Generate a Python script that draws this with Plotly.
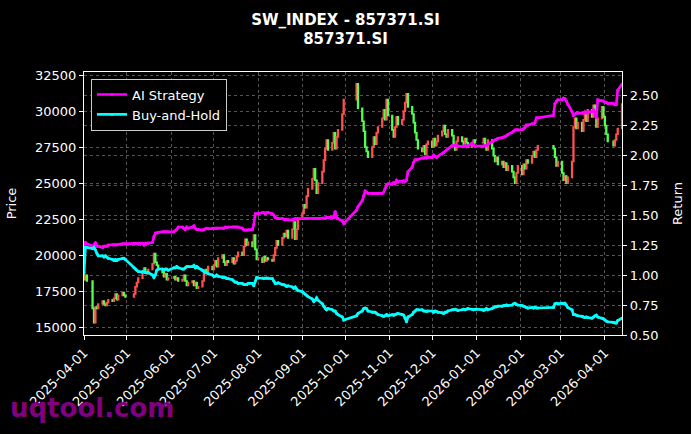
import pandas as pd
import plotly.graph_objects as go

# trading days: weekdays minus exchange holidays
start_date = "2025-04-01"
end_date = "2026-04-13"
holidays = ["2025-04-04", "2025-05-01", "2025-05-02", "2025-05-05", "2025-06-02",
            "2025-10-01", "2025-10-02", "2025-10-03", "2025-10-06", "2025-10-07", "2025-10-08",
            "2026-01-01", "2026-01-02", "2026-02-16", "2026-02-17", "2026-02-18",
            "2026-02-19", "2026-02-20", "2026-02-23", "2026-04-06"]

first_open = 18700
closes = [
    # 2025-04
    18300, 18600, 18200, 16300, 15300, 16400, 16300, 16600, 16800, 16600, 16500, 16700, 16900,
    16800, 17000, 17300, 16900, 17200, 17400, 17200, 17100,
    # 2025-05
    17300, 17800, 18100, 18400, 18900, 19100, 18800, 18700, 19000, 19400, 20100, 19500, 19300,
    19000, 18800, 18500, 18700, 18300, 18400,
    # 2025-06
    18500, 18300, 18400, 18200, 18300, 18600, 18200, 17900, 18100, 18200, 17900, 18100, 17700,
    17800, 18200, 18700, 19000, 18800, 19200, 19000,
    # 2025-07
    19300, 19600, 19200, 19800, 20000, 19500, 19300, 19600, 19500, 19800, 19400, 19600, 19900,
    20200, 20000, 20600, 21100, 20700, 20900, 20600, 21400, 20400, 19700,
    # 2025-08
    19800, 19500, 19900, 19600, 19800, 19700, 19600, 20000, 20500, 21000, 20700, 21200, 21500,
    21300, 21700, 21200, 21800, 22300, 21100, 21800, 22600,
    # 2025-09
    22900, 23500, 23300, 24100, 24600, 25300, 26000, 25200, 24300, 25000, 25800, 26600, 27400,
    28000, 27300, 27800, 28500, 27400, 28200, 28700, 29800, 30800,
    # 2025-10
    31900, 30200, 29300, 28600, 27500, 27200, 26800, 27500, 28200, 27700, 28500, 28900, 29500,
    30100, 29400, 30800, 29700,
    # 2025-11
    28700, 28200, 28900, 29600, 29100, 29400, 30000, 30600, 31200, 30300, 29800, 29200, 28500,
    28000, 27400, 27200, 27600, 27000, 27700, 27900,
    # 2025-12
    27500, 28100, 27600, 27900, 28300, 28600, 29000, 28400, 28200, 28700, 28300, 27600, 27300,
    27900, 28200, 27900, 27600, 28100, 27800, 27500, 27700, 28000, 27800,
    # 2026-01
    27800, 28100, 27600, 27300, 28000, 27400, 26900, 26500, 26800, 26300, 26500, 26100, 26400,
    25900, 26200, 25800, 25400, 25000, 25700, 26200,
    # 2026-02
    25600, 26300, 26000, 26600, 26400, 26900, 27200, 26800, 27300, 27600, 27400, 26800, 26200, 26500,
    # 2026-03
    25700, 25200, 25500, 25000, 25400, 26500, 28900, 29500, 28800, 29200, 28600, 29400, 29900,
    29300, 30100, 29600, 30400, 29800, 28900, 29500, 30300, 29600,
    # 2026-04
    29000, 28400, 27900, 27600, 28000, 28400, 28800, 30500,
]

ai_strategy = [
    1.25, 1.27, 1.26, 1.24, 1.25, 1.27, 1.24, 1.24, 1.23, 1.24, 1.24, 1.24, 1.25, 1.25, 1.25, 1.25,
    1.25, 1.255, 1.26, 1.26, 1.26,
    1.265, 1.265, 1.265, 1.265, 1.265, 1.25, 1.265, 1.265, 1.265, 1.27, 1.32, 1.35, 1.35, 1.355,
    1.36, 1.36, 1.36, 1.36, 1.36,
    1.36, 1.37, 1.38, 1.40, 1.40, 1.39, 1.38, 1.40, 1.39, 1.40, 1.41, 1.39, 1.38, 1.38, 1.375,
    1.38, 1.385, 1.39, 1.385, 1.39,
    1.39, 1.39, 1.39, 1.39, 1.39, 1.39, 1.40, 1.395, 1.40, 1.40, 1.40, 1.40, 1.40, 1.40, 1.39,
    1.375, 1.375, 1.375, 1.375, 1.38, 1.42, 1.51, 1.51,
    1.51, 1.52, 1.52, 1.51, 1.52, 1.52, 1.51, 1.50, 1.48, 1.475, 1.47, 1.47, 1.465, 1.46, 1.465,
    1.46, 1.46, 1.465, 1.47, 1.465, 1.47,
    1.47, 1.47, 1.47, 1.47, 1.47, 1.47, 1.47, 1.47, 1.47, 1.47, 1.475, 1.475, 1.475, 1.48, 1.48,
    1.48, 1.48, 1.53, 1.48, 1.47, 1.45, 1.43,
    1.54, 1.57, 1.62, 1.66, 1.70, 1.69, 1.68, 1.68, 1.68, 1.68, 1.68, 1.68, 1.68, 1.69, 1.72,
    1.75, 1.76,
    1.76, 1.77, 1.76, 1.79, 1.78, 1.78, 1.785, 1.78, 1.79, 1.86, 1.90, 1.94, 1.96, 1.96, 1.965,
    1.975, 1.975, 1.98, 1.975, 1.98,
    1.98, 2.00, 1.99, 1.98, 1.99, 2.01, 2.02, 2.03, 2.04, 2.05, 2.08, 2.08, 2.08, 2.08, 2.075,
    2.07, 2.075, 2.08, 2.07, 2.075, 2.10, 2.08, 2.075,
    2.07, 2.075, 2.08, 2.08, 2.09, 2.11, 2.12, 2.125, 2.13, 2.14, 2.145, 2.15, 2.15, 2.16, 2.17,
    2.19, 2.20, 2.21, 2.21, 2.21,
    2.21, 2.22, 2.23, 2.25, 2.25, 2.26, 2.26, 2.27, 2.31, 2.31, 2.33, 2.43, 2.45, 2.46,
    2.46, 2.475, 2.47, 2.45, 2.42, 2.36, 2.33, 2.34, 2.35, 2.35, 2.35, 2.35, 2.36, 2.35, 2.36,
    2.36, 2.38, 2.34, 2.31, 2.46, 2.45, 2.45,
    2.44, 2.44, 2.43, 2.43, 2.42, 2.42, 2.54, 2.59,
]

buy_and_hold = [
    1.02, 1.23, 1.23, 1.22, 1.23, 1.21, 1.18, 1.16, 1.16, 1.15, 1.16, 1.15, 1.14, 1.13, 1.12, 1.13,
    1.12, 1.13, 1.14, 1.14, 1.13,
    1.06, 1.05, 1.04, 1.03, 1.025, 1.03, 1.02, 1.02, 1.02, 1.00, 0.98, 1.00, 1.04, 1.05, 1.05,
    1.04, 1.05, 1.05, 1.04,
    1.06, 1.06, 1.07, 1.06, 1.05, 1.05, 1.06, 1.07, 1.07, 1.07, 1.08, 1.06, 1.07, 1.06, 1.04,
    1.03, 1.02, 1.02, 1.01, 1.00,
    0.99, 0.99, 1.00, 0.99, 0.98, 0.98, 0.98, 0.97, 0.97, 0.96, 0.95, 0.94, 0.94, 0.93, 0.93,
    0.92, 0.92, 0.92, 0.93, 0.93, 0.91, 0.95, 0.98,
    0.975, 0.975, 0.97, 0.975, 0.975, 0.975, 0.97, 0.95, 0.93, 0.93, 0.935, 0.92, 0.92, 0.915,
    0.905, 0.91, 0.90, 0.89, 0.90, 0.88, 0.87,
    0.86, 0.85, 0.84, 0.83, 0.82, 0.80, 0.78, 0.79, 0.81, 0.79, 0.76, 0.74, 0.72, 0.71, 0.72,
    0.71, 0.70, 0.70, 0.68, 0.67, 0.65, 0.625,
    0.66, 0.68, 0.70, 0.72, 0.725, 0.72, 0.70, 0.69, 0.69, 0.69, 0.68, 0.67, 0.66, 0.655, 0.66,
    0.67, 0.66,
    0.67, 0.665, 0.67, 0.675, 0.68, 0.67, 0.665, 0.64, 0.61, 0.65, 0.67, 0.69, 0.70, 0.71, 0.71,
    0.71, 0.70, 0.70, 0.695, 0.70,
    0.70, 0.69, 0.70, 0.695, 0.69, 0.685, 0.68, 0.69, 0.69, 0.70, 0.71, 0.71, 0.715, 0.71, 0.705,
    0.71, 0.715, 0.71, 0.715, 0.72, 0.715, 0.71, 0.715,
    0.71, 0.705, 0.71, 0.72, 0.71, 0.72, 0.73, 0.735, 0.735, 0.74, 0.74, 0.745, 0.745, 0.75,
    0.745, 0.75, 0.76, 0.765, 0.755, 0.75,
    0.745, 0.74, 0.735, 0.73, 0.725, 0.73, 0.725, 0.73, 0.725, 0.725, 0.73, 0.76, 0.765, 0.76,
    0.765, 0.76, 0.765, 0.75, 0.73, 0.71, 0.67, 0.67, 0.665, 0.66, 0.655, 0.65, 0.645, 0.65,
    0.645, 0.64, 0.65, 0.66, 0.665, 0.65, 0.64, 0.635,
    0.625, 0.615, 0.61, 0.605, 0.60, 0.60, 0.62, 0.64,
]

dates = pd.bdate_range(start_date, end_date)
dates = dates[~dates.isin(pd.to_datetime(holidays))]

# candles: open at previous close, body only
opens = [first_open] + closes[:-1]
highs = [max(o, c) for o, c in zip(opens, closes)]
lows = [min(o, c) for o, c in zip(opens, closes)]

fig = go.Figure()

fig.add_trace(go.Candlestick(
    x=dates, open=opens, high=highs, low=lows, close=closes,
    increasing=dict(line=dict(color="#ff5050", width=1.6), fillcolor="#ff5050"),
    decreasing=dict(line=dict(color="#50ff50", width=1.6), fillcolor="#50ff50"),
    showlegend=False, name="Price",
))

fig.add_trace(go.Scatter(
    x=dates, y=ai_strategy, name="AI Strategy", yaxis="y2",
    mode="lines+markers", line=dict(color="#ff00ff", width=2.7),
    marker=dict(size=3, color="#ff00ff"),
))
fig.add_trace(go.Scatter(
    x=dates, y=buy_and_hold, name="Buy-and-Hold", yaxis="y2",
    mode="lines+markers", line=dict(color="#00ffff", width=2.7),
    marker=dict(size=3, color="#00ffff"),
))

grid = dict(showgrid=True, gridcolor="#555555", gridwidth=0.6, griddash="3px,3px")
axis_style = dict(showline=True, linecolor="white", linewidth=1.2,
                  ticks="outside", ticklen=4, tickcolor="white", zeroline=False,
                  automargin=False, tickfont=dict(color="white", size=13))

fig.update_layout(
    width=691, height=434,
    paper_bgcolor="black", plot_bgcolor="black",
    font=dict(family="DejaVu Sans", color="white", size=13),
    margin=dict(l=84, r=69, t=72, b=99),
    title=dict(text="<b>SW_INDEX - 857371.SI<br>857371.SI</b>", x=0.5, xanchor="center",
               y=0.943, yanchor="middle", font=dict(size=15, color="white")),
    xaxis=dict(type="date", range=[start_date, end_date], rangeslider=dict(visible=False),
               tick0="2025-04-01", dtick="M1", tickformat="%Y-%m-%d", tickangle=-45,
               mirror=True, **grid, **axis_style),
    yaxis=dict(title=dict(text="Price", font=dict(size=13)),
               range=[14450, 32720], dtick=2500, tickformat="d", mirror=True,
               **grid, **axis_style),
    yaxis2=dict(title=dict(text="Return", font=dict(size=13)),
                overlaying="y", side="right", range=[0.5, 2.692], dtick=0.25,
                tickformat=".2f", **grid, **axis_style),
    legend=dict(x=0.013, y=0.975, xanchor="left", yanchor="top",
                bgcolor="black", bordercolor="#cccccc", borderwidth=1,
                itemwidth=30, tracegroupgap=0,
                font=dict(size=13, color="white")),
    annotations=[dict(text="<b>uqtool.com</b>", xref="paper", yref="paper",
                      x=-0.141, y=-0.278, xanchor="left", yanchor="middle", showarrow=False,
                      font=dict(size=26, color="#800080", family="DejaVu Sans"))],
)

fig.write_html("out.html", config={"displayModeBar": False},
               post_script="document.body.style.margin='0';")
